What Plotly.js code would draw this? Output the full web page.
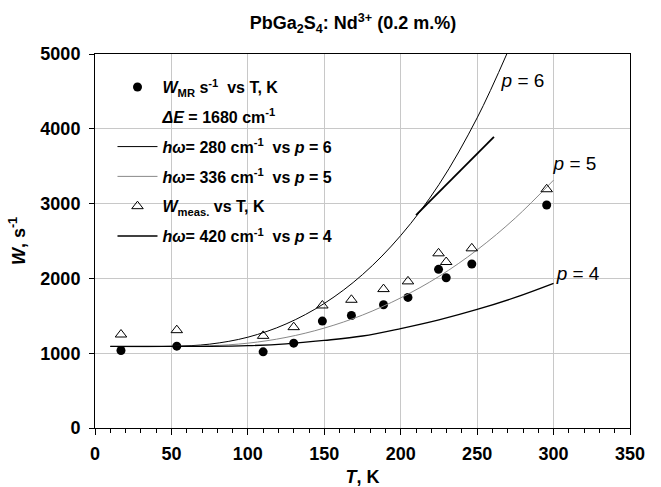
<!DOCTYPE html>
<html>
<head>
<meta charset="utf-8">
<script src="https://cdn.plot.ly/plotly-3.0.1.min.js"></script>
<style>html,body{margin:0;padding:0;background:#fff;}#chart{width:661px;height:487px;}</style>
</head>
<body>
<div id="chart"></div>
<script>
// Measured points (T, K)
const tMeas = [17, 53.5, 110, 130, 148.75, 167.75, 188.75, 204.75, 224.75, 229.75, 246.5, 295.5];
const wMR = [1036, 1094, 1018, 1134, 1429, 1504, 1647, 1746, 2121, 2009, 2192, 2982];
const wMeas = [1250, 1308, 1232, 1348, 1638, 1714, 1857, 1960, 2335, 2219, 2402, 3192];

// Fitted curves
const tCurve = [10, 50, 75, 100, 125, 150, 175, 200, 225, 250, 275, 300];
const wP4 = [1090, 1090, 1091, 1100, 1125, 1171, 1230, 1330, 1446, 1585, 1746, 1934];
const wP5 = [1090, 1090, 1099, 1134, 1211, 1336, 1510, 1740, 2026, 2381, 2808, 3314];
const tCurve6 = [10, 50, 75, 100, 125, 150, 175, 200, 225, 250, 270];
const wP6 = [1090, 1092, 1121, 1214, 1391, 1665, 2051, 2573, 3254, 4146, 5028];

// Straight segment drawn near the p = 6 curve
const tSeg = [210, 261];
const wSeg = [2846, 3893];

// Curve labels
const labT = [266, 300, 302];
const labW = [4629, 3512, 2045];
const labText = ['<i>p</i> = 6', '<i>p</i> = 5', '<i>p</i> = 4'];

const xTicks = [0, 50, 100, 150, 200, 250, 300, 350];
const yTicks = [0, 1000, 2000, 3000, 4000, 5000];

const F = 'Liberation Sans, Arial, sans-serif';
const SP = '\u00a0\u00a0';

const traces = [
  {x: tMeas, y: wMR, mode: 'markers', type: 'scatter',
   name: '<b><i>W</i><sub>MR</sub> s<sup>-1</sup>' + SP + 'vs T, K</b>',
   marker: {symbol: 'circle', size: 9, color: '#000'}, legendgroup: 'a'},
  {x: [null], y: [null], mode: 'markers', type: 'scatter',
   name: '<b><i>\u0394E</i> = 1680 cm<sup>-1</sup></b>',
   marker: {size: 1, color: 'rgba(0,0,0,0)'}, legendgroup: 'b'},
  {x: tCurve6, y: wP6, mode: 'lines', type: 'scatter', line: {color: '#000', width: 1, shape: 'spline'},
   name: '<b><i>h\u03c9</i>= 280 cm<sup>-1</sup>' + SP + 'vs <i>p</i> = 6</b>', legendgroup: 'c'},
  {x: tCurve, y: wP5, mode: 'lines', type: 'scatter', line: {color: '#888', width: 1, shape: 'spline'},
   name: '<b><i>h\u03c9</i>= 336 cm<sup>-1</sup>' + SP + 'vs <i>p</i> = 5</b>', legendgroup: 'd'},
  {x: tMeas, y: wMeas, mode: 'markers', type: 'scatter',
   name: '<b><i>W</i><sub>meas.</sub> vs T, K</b>',
   marker: {symbol: 'triangle-up-open', size: 10, color: '#000', line: {width: 1}}, legendgroup: 'e'},
  {x: tCurve, y: wP4, mode: 'lines', type: 'scatter', line: {color: '#000', width: 1.3, shape: 'spline'},
   name: '<b><i>h\u03c9</i>= 420 cm<sup>-1</sup>' + SP + 'vs <i>p</i> = 4</b>', legendgroup: 'f'},
  {x: tSeg, y: wSeg, mode: 'lines', type: 'scatter', line: {color: '#000', width: 1.8},
   showlegend: false, hoverinfo: 'skip'},
  {x: labT, y: labW, mode: 'text', type: 'scatter', text: labText, textposition: 'middle right',
   textfont: {family: F, size: 19, color: '#000'}, showlegend: false, cliponaxis: false}
];

const layout = {
  width: 661, height: 487,
  margin: {l: 95, r: 31, t: 54, b: 59},
  paper_bgcolor: '#fff', plot_bgcolor: '#fff',
  font: {family: F, color: '#000'},
  title: {text: '<b>PbGa<sub>2</sub>S<sub>4</sub>: Nd<sup>3+</sup> (0.2 m.%)</b>',
          font: {family: F, size: 18, color: '#000'}, x: 0.534, xanchor: 'center', y: 0.953, yanchor: 'middle'},
  xaxis: {range: [0, 350], tickvals: xTicks, ticktext: xTicks.map(String),
          showgrid: true, gridcolor: '#c8c8c8', gridwidth: 1,
          showline: true, linecolor: '#000', linewidth: 1, mirror: true,
          ticks: 'outside', ticklen: 6, tickcolor: '#000', ticklabelstandoff: 3,
          minor: {dtick: 10, ticks: 'outside', ticklen: 4, tickcolor: '#000', showgrid: false},
          tickfont: {family: F, size: 18, color: '#000', weight: 'bold'},
          zeroline: false,
          title: {text: '<b><i>T</i>, K</b>', font: {family: F, size: 18, color: '#000'}, standoff: 8}},
  yaxis: {range: [0, 5000], tickvals: yTicks, ticktext: yTicks.map(String),
          showgrid: true, gridcolor: '#c8c8c8', gridwidth: 1,
          showline: true, linecolor: '#000', linewidth: 1, mirror: true,
          ticks: 'outside', ticklen: 5, tickcolor: '#000', ticklabelstandoff: 5,
          tickfont: {family: F, size: 18, color: '#000', weight: 'bold'},
          zeroline: false,
          title: {text: '<b><i>W</i>, s<sup>-1</sup></b>', font: {family: F, size: 18, color: '#000'}, standoff: 10}},
  legend: {x: 0.0327, y: 0.957, xanchor: 'left', yanchor: 'top', bgcolor: 'rgba(0,0,0,0)',
           font: {family: F, size: 16, color: '#000'}, traceorder: 'grouped', tracegroupgap: 6,
           itemwidth: 40},
  showlegend: true
};

Plotly.newPlot('chart', traces, layout, {staticPlot: true, displayModeBar: false});
</script>
</body>
</html>
